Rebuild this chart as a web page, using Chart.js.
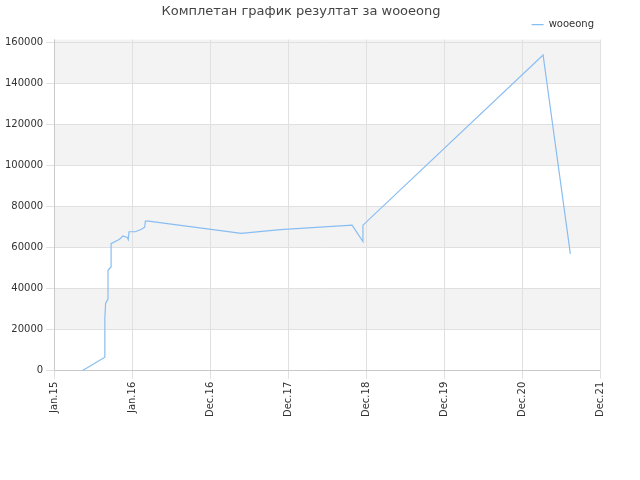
<!DOCTYPE html>
<html><head><meta charset="utf-8">
<script src="https://cdn.jsdelivr.net/npm/chart.js@4"></script>
<style>body{margin:0;background:#fff}#w{width:640px;height:480px}</style></head>
<body><div id="w"><canvas id="c"></canvas></div>
<script>
const tickLabels=["Jan.15","Jan.16","Dec.16","Dec.17","Dec.18","Dec.19","Dec.20","Dec.21"];
const xs=[0.36,0.65,0.65,0.66,0.69,0.69,0.73,0.73,0.82,0.85,0.88,0.94,0.95,0.96,1.04,1.12,1.16,1.17,1.21,2.4,2.9,3.82,3.96,3.96,6.27,6.62];
const ys=[0,6600,26000,33000,35000,49000,50600,62000,63800,64500,65800,65000,64000,67800,67800,69000,70000,73000,73000,67000,68800,71000,63000,71000,154000,57000];
const seriesName="wooeong";
const bands={id:'bands',beforeDraw(ch){const {ctx,chartArea:a,scales:{y}}=ch;ctx.save();ctx.fillStyle='#f3f3f3';
for(let v=20000;v<160000;v+=40000){const t=y.getPixelForValue(Math.min(v+20000,y.max)),b=y.getPixelForValue(v);ctx.fillRect(a.left,t,a.right-a.left,b-t);}
const t=y.getPixelForValue(y.max),b=y.getPixelForValue(160000);ctx.fillRect(a.left,t,a.right-a.left,b-t);ctx.restore();}};
new Chart(document.getElementById('c'),{type:'line',
data:{datasets:[{label:seriesName,data:xs.map((x,i)=>({x,y:ys[i]})),borderColor:'#88bdf2',backgroundColor:'#88bdf2',borderWidth:1.2,pointRadius:0,tension:0}]},
options:{responsive:true,maintainAspectRatio:false,animation:false,
layout:{padding:{left:2,right:40,bottom:60,top:0}},
plugins:{title:{display:true,text:'Комплетан график резултат за wooeong',color:'#444',font:{family:'DejaVu Sans',size:13,weight:'normal'},padding:{top:4,bottom:-6}},
legend:{position:'top',align:'end',maxHeight:40,labels:{boxWidth:12,boxHeight:0,padding:6,color:'#333',font:{family:'DejaVu Sans',size:10},generateLabels:(c)=>Chart.defaults.plugins.legend.labels.generateLabels(c)}}},
scales:{x:{type:'linear',min:0,max:7,afterBuildTicks(s){s.ticks=tickLabels.map((_,i)=>({value:i}));},
ticks:{callback:(v)=>tickLabels[v],minRotation:90,maxRotation:90,color:'#333',font:{family:'DejaVu Sans',size:10}},grid:{color:'#e0e0e0'}},
y:{min:0,max:161500,afterBuildTicks(s){s.ticks=[];for(let v=0;v<=160000;v+=20000)s.ticks.push({value:v});},
ticks:{callback:(v)=>String(v),color:'#333',font:{family:'DejaVu Sans',size:10}},grid:{color:'#e0e0e0'}}}},
plugins:[bands]});
</script></body></html>
